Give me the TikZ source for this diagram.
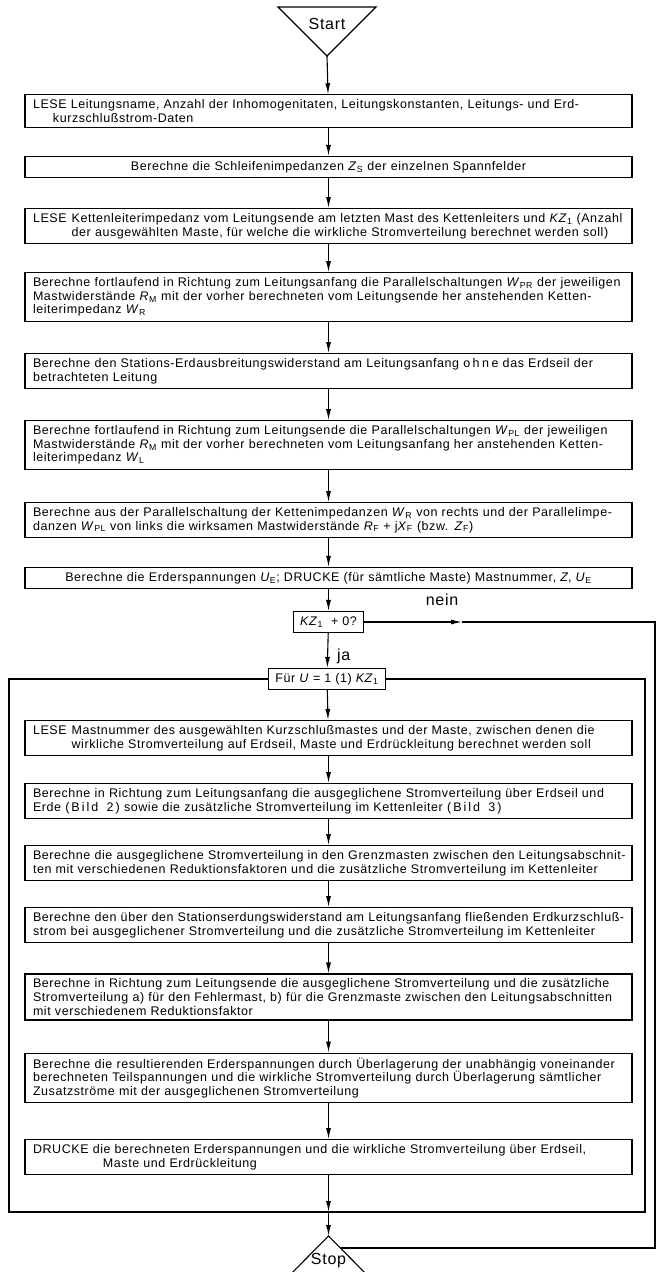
\documentclass[tikz,border=0pt]{standalone}
\usepackage{fontspec}
\setmainfont{Liberation Sans}[LetterSpace=4.5]
\usetikzlibrary{arrows.meta}
\newcommand\sv[2]{\textit{#1}\textsubscript{#2}}
\newcommand\jline[1]{\hbox to \linewidth{#1}}
\newcommand\lline[1]{\hbox{#1}}
\newcommand\cenline[1]{\hbox to \linewidth{\hfil #1\hfil}}
\newcommand\lese{\hbox{\phantom{LESE}}\hskip 5pt}
\tikzset{
  pbox/.style={draw, line width=1.1pt, fill=white, text width=591pt, inner xsep=8pt, inner ysep=4.8pt,
     font=\fontsize{12.5}{13.6}\selectfont, anchor=center},
  sbox/.style={draw, line width=1.1pt, fill=white, inner xsep=7pt, inner ysep=3pt, minimum height=21pt,
     font=\fontsize{12.5}{13.6}\selectfont},
  arr/.style={line width=1.1pt, -{Latex[length=11pt,width=5pt]}},
  ln/.style={line width=1.1pt},
  lbl/.style={font=\fontsize{16}{18}\selectfont, inner sep=0pt}
}
\begin{document}
\begin{tikzpicture}[x=1pt,y=1pt]
\useasboundingbox (0,0) rectangle (659,-1272);
% Start
\coordinate (sa) at (327,-56);
\draw[ln, line join=miter] (278,-7) -- (376,-7) -- (sa) -- cycle;
\node[lbl] (start) at (327,-24) {Start};
% main column
\node[pbox] (b1) at (328.5,-111) {\vbox{\jline{LESE Leitungsname, Anzahl der Inhomogenitaten, Leitungskonstanten, Leitungs- und Erd-}\lline{\hskip 20pt kurzschlußstrom-Daten}}};
\node[pbox] (b2) at (328.5,-167) {\vbox{\cenline{Berechne die Schleifenimpedanzen \sv{Z}{S} der einzelnen Spannfelder}}};
\node[pbox] (b3) at (328.5,-226) {\vbox{\jline{LESE\hskip 5pt Kettenleiterimpedanz vom Leitungsende am letzten Mast des Kettenleiters und \sv{KZ}{1} (Anzahl}\jline{\lese der ausgewählten Maste, für welche die wirkliche Stromverteilung berechnet werden soll)}}};
\node[pbox] (b4) at (328.5,-297) {\vbox{\jline{Berechne fortlaufend in Richtung zum Leitungsanfang die Parallelschaltungen \sv{W}{PR} der jeweiligen}\jline{Mastwiderstände \sv{R}{M} mit der vorher berechneten vom Leitungsende her anstehenden Ketten-}\lline{leiterimpedanz \sv{W}{R}}}};
\node[pbox] (b5) at (328.5,-371) {\vbox{\jline{Berechne den Stations-Erdausbreitungswiderstand am Leitungsanfang o\kern2.5pt h\kern2.5pt n\kern2.5pt e das Erdseil der}\lline{betrachteten Leitung}}};
\node[pbox] (b6) at (328.5,-445) {\vbox{\jline{Berechne fortlaufend in Richtung zum Leitungsende die Parallelschaltungen \sv{W}{PL} der jeweiligen}\jline{Mastwiderstände \sv{R}{M} mit der vorher berechneten vom Leitungsanfang her anstehenden Ketten-}\lline{leiterimpedanz \sv{W}{L}}}};
\node[pbox] (b7) at (328.5,-520) {\vbox{\jline{Berechne aus der Parallelschaltung der Kettenimpedanzen \sv{W}{R} von rechts und der Parallelimpe-}\lline{danzen \sv{W}{PL} von links die wirksamen Mastwiderstände \sv{R}{F} + j\sv{X}{F} (bzw. \sv{Z}{F})}}};
\node[pbox] (b8) at (328.5,-578) {\vbox{\cenline{Berechne die Erderspannungen \sv{U}{E}; DRUCKE (für sämtliche Maste) Mastnummer, \textit{Z}, \sv{U}{E}}}};
\node[sbox] (kz) at (328.5,-622) {\sv{KZ}{1}\ \ + 0?};
\node[sbox] (fuer) at (327,-679) {Für \textit{U} = 1 (1) \sv{KZ}{1}};
% loop frame
\coordinate (lTL) at (9,-679);
\coordinate (lBL) at (9,-1212);
\coordinate (lBR) at (645,-1212);
\coordinate (lTR) at (645,-679);
\coordinate (lB) at (328.5,-1212);
\draw[ln] (fuer.west) -- (lTL) -- (lBL) -- (lBR) -- (lTR) -- (fuer.east);
% loop body
\node[pbox] (c1) at (328.5,-738) {\vbox{\jline{LESE\hskip 5pt Mastnummer des ausgewählten Kurzschlußmastes und der Maste, zwischen denen die}\jline{\lese wirkliche Stromverteilung auf Erdseil, Maste und Erdrückleitung berechnet werden soll}}};
\node[pbox] (c2) at (328.5,-801) {\vbox{\jline{Berechne in Richtung zum Leitungsanfang die ausgeglichene Stromverteilung über Erdseil und}\lline{Erde (\,B\kern2pt i\kern2pt l\kern2pt d\ \ 2\,) sowie die zusätzliche Stromverteilung im Kettenleiter (\,B\kern2pt i\kern2pt l\kern2pt d\ \ 3\,)}}};
\node[pbox] (c3) at (328.5,-863) {\vbox{\jline{Berechne die ausgeglichene Stromverteilung in den Grenzmasten zwischen den Leitungsabschnit-}\jline{ten mit verschiedenen Reduktionsfaktoren und die zusätzliche Stromverteilung im Kettenleiter}}};
\node[pbox] (c4) at (328.5,-925) {\vbox{\jline{Berechne den über den Stationserdungswiderstand am Leitungsanfang fließenden Erdkurzschluß-}\jline{strom bei ausgeglichener Stromverteilung und die zusätzliche Stromverteilung im Kettenleiter}}};
\node[pbox] (c5) at (328.5,-997) {\vbox{\jline{Berechne in Richtung zum Leitungsende die ausgeglichene Stromverteilung und die zusätzliche}\jline{Stromverteilung a) für den Fehlermast, b) für die Grenzmaste zwischen den Leitungsabschnitten}\lline{mit verschiedenem Reduktionsfaktor}}};
\node[pbox] (c6) at (328.5,-1078) {\vbox{\jline{Berechne die resultierenden Erderspannungen durch Überlagerung der unabhängig voneinander}\jline{berechneten Teilspannungen und die wirkliche Stromverteilung durch Überlagerung sämtlicher}\lline{Zusatzströme mit der ausgeglichenen Stromverteilung}}};
\node[pbox] (c7) at (328.5,-1157) {\vbox{\jline{DRUCKE die berechneten Erderspannungen und die wirkliche Stromverteilung über Erdseil,}\lline{\hskip 70pt Maste und Erdrückleitung}}};
% Stop
\coordinate (stopA) at (328.5,-1236);
\draw[ln, line join=miter] (280,-1285) -- (stopA) -- (377,-1285);
\node[lbl] (stop) at (328.5,-1261) {Stop};
% arrows
\draw[arr] (sa) -- (b1);
\draw[arr] (b1) -- (b2);
\draw[arr] (b2) -- (b3);
\draw[arr] (b3) -- (b4);
\draw[arr] (b4) -- (b5);
\draw[arr] (b5) -- (b6);
\draw[arr] (b6) -- (b7);
\draw[arr] (b7) -- (b8);
\draw[arr] (b8) -- (kz);
\draw[arr] (kz) -- (fuer);
\node[lbl, anchor=west] (ja) at (337,-656) {ja};
\draw[arr] (fuer) -- (c1);
\draw[arr] (c1) -- (c2);
\draw[arr] (c2) -- (c3);
\draw[arr] (c3) -- (c4);
\draw[arr] (c4) -- (c5);
\draw[arr] (c5) -- (c6);
\draw[arr] (c6) -- (c7);
\draw[arr] (c7) -- (lB);
\draw[arr] (lB) -- (stopA);
% nein branch
\coordinate (nm) at (462,-622);
\coordinate (nr) at (655,-622);
\coordinate (nrb) at (655,-1248);
\coordinate (ns) at (340.5,-1248);
\draw[arr] (kz.east) -- (nm);
\draw[ln] (nm) -- (nr) -- (nrb) -- (ns);
\node[lbl] (nein) at (442,-600) {nein};
\end{tikzpicture}
\end{document}
